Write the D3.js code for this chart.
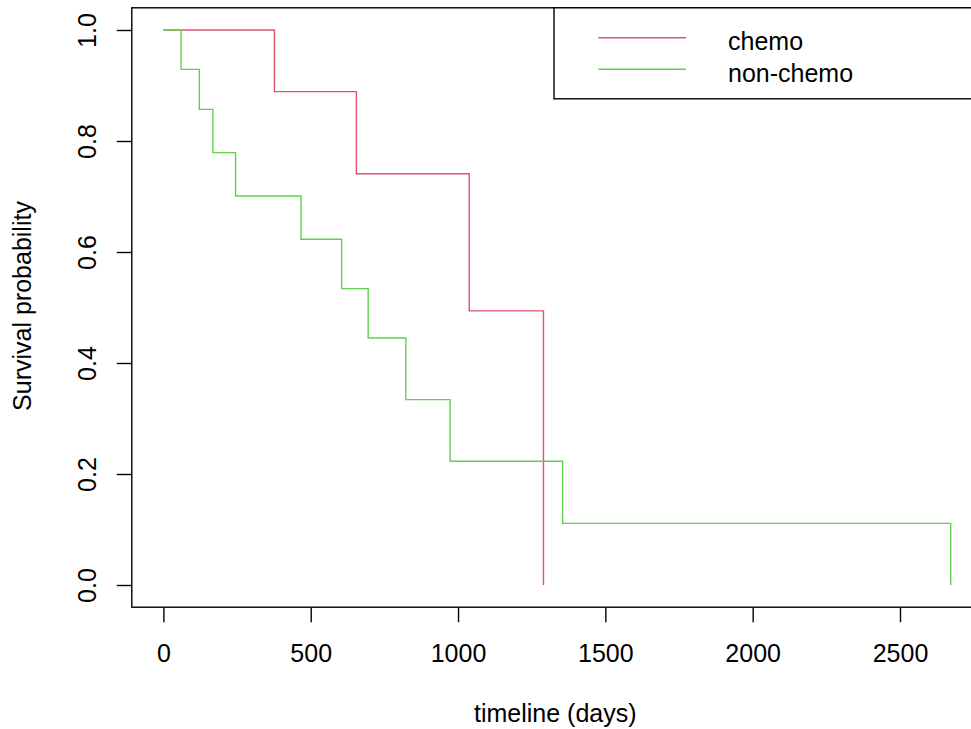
<!DOCTYPE html>
<html>
<head>
<meta charset="utf-8">
<script src="https://cdn.jsdelivr.net/npm/d3@7"></script>
<style>
  html, body { margin: 0; padding: 0; background: #fff; }
  svg { display: block; }
  text { font-family: "Liberation Sans", Arial, sans-serif; fill: #000; }
</style>
</head>
<body>
<svg id="chart" width="971" height="729"></svg>
<script>
// ---- data ----
const seriesNames = ["chemo", "non-chemo"];
const seriesColors = ["#DF536B", "#61D04F"];
const chemoTimes = [0, 377, 655, 1038, 1290];
const chemoSurv  = [1, 0.889, 0.741, 0.494, 0];
const nonChemoTimes = [0, 60, 122, 168, 245, 467, 605, 695, 823, 973, 1355, 2672];
const nonChemoSurv  = [1, 0.929, 0.857, 0.779, 0.701, 0.623, 0.534, 0.445, 0.334, 0.223, 0.111, 0];
const xTicks = [0, 500, 1000, 1500, 2000, 2500];
const yTicks = [0, 0.2, 0.4, 0.6, 0.8, 1.0];
const xTitle = "timeline (days)";
const yTitle = "Survival probability";

// ---- layout ----
const svg = d3.select("#chart");
const pLeft = 131.8, pRight = 984.8, pTop = 7.8, pBottom = 607.2;
const fontSize = 25;

const x = d3.scaleLinear().domain([-107.2, 2787.8]).range([pLeft, pRight]);
const y = d3.scaleLinear().domain([-0.04, 1.04]).range([pBottom, pTop]);

// curves
const series = [
  { times: chemoTimes, surv: chemoSurv },
  { times: nonChemoTimes, surv: nonChemoSurv }
];
const line = d3.line()
  .x(d => x(d[0]))
  .y(d => y(d[1]))
  .curve(d3.curveStepAfter);

series.forEach((s, i) => {
  const pts = s.times.map((t, j) => [t, s.surv[j]]);
  svg.append("path")
    .attr("d", line(pts))
    .attr("fill", "none")
    .attr("stroke", seriesColors[i])
    .attr("stroke-width", 1.4);
});

// box
svg.append("rect")
  .attr("x", pLeft).attr("y", pTop)
  .attr("width", pRight - pLeft).attr("height", pBottom - pTop)
  .attr("fill", "none").attr("stroke", "#000").attr("stroke-width", 1.4);

// x axis
const gx = svg.append("g")
  .attr("transform", `translate(0,${pBottom})`)
  .call(d3.axisBottom(x).tickValues(xTicks).tickSize(15).tickFormat(d3.format("d")));
gx.select(".domain").remove();
gx.selectAll("line").attr("stroke", "#000").attr("stroke-width", 1.4);
gx.selectAll("text")
  .attr("y", 55).attr("dy", null)
  .attr("font-size", fontSize)
  .attr("font-family", "Liberation Sans, Arial, sans-serif")
  .attr("fill", "#000");

// y axis
const gy = svg.append("g")
  .attr("transform", `translate(${pLeft},0)`)
  .call(d3.axisLeft(y).tickValues(yTicks).tickSize(15).tickFormat(d3.format(".1f")));
gy.select(".domain").remove();
gy.selectAll("line").attr("stroke", "#000").attr("stroke-width", 1.4);
gy.selectAll("text")
  .attr("x", null).attr("dy", null)
  .attr("transform", "translate(-36,0) rotate(-90)")
  .attr("text-anchor", "middle")
  .attr("font-size", fontSize)
  .attr("font-family", "Liberation Sans, Arial, sans-serif")
  .attr("fill", "#000");

// titles
svg.append("text")
  .attr("x", (pLeft + pRight) / 2 - 3).attr("y", 722)
  .attr("text-anchor", "middle")
  .attr("font-size", fontSize)
  .text(xTitle);

svg.append("text")
  .attr("transform", `translate(31,${(pTop + pBottom) / 2 - 1.5}) rotate(-90)`)
  .attr("text-anchor", "middle")
  .attr("font-size", fontSize)
  .text(yTitle);

// legend
const legX = 554, legY = pTop, legH = 91;
svg.append("rect")
  .attr("x", legX).attr("y", legY)
  .attr("width", pRight - legX).attr("height", legH)
  .attr("fill", "#fff").attr("stroke", "#000").attr("stroke-width", 1.4);

const legRows = [37.7, 69.3];
seriesNames.forEach((name, i) => {
  svg.append("line")
    .attr("x1", 598.3).attr("x2", 686)
    .attr("y1", legRows[i]).attr("y2", legRows[i])
    .attr("stroke", seriesColors[i]).attr("stroke-width", 1.4);
  svg.append("text")
    .attr("x", 728).attr("y", legRows[i] + 12.5)
    .attr("font-size", fontSize)
    .text(name);
});
</script>
</body>
</html>
